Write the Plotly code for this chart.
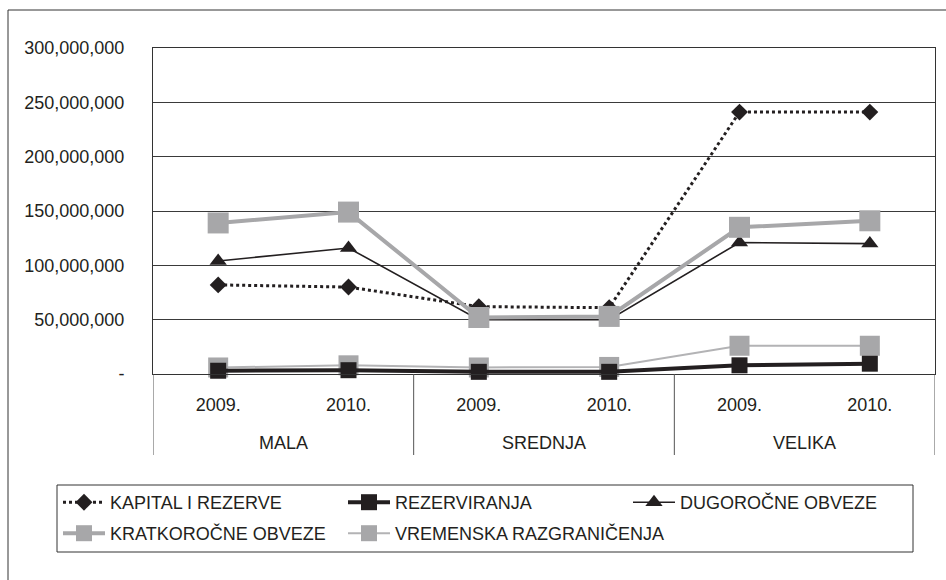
import plotly.graph_objects as go

groups = ["MALA", "MALA", "SREDNJA", "SREDNJA", "VELIKA", "VELIKA"]
years = ["2009.", "2010.", "2009.", "2010.", "2009.", "2010."]

kapital = [82e6, 80e6, 62e6, 61e6, 241e6, 241e6]
rezerviranja = [3e6, 3.5e6, 2e6, 2e6, 8e6, 9.5e6]
dugorocne = [104e6, 116e6, 50e6, 50e6, 121e6, 120e6]
kratkorocne = [139e6, 149e6, 52e6, 53e6, 135e6, 141e6]
vremenska = [6e6, 8e6, 6e6, 6.5e6, 26e6, 26e6]

y_ticks = [0, 50e6, 100e6, 150e6, 200e6, 250e6, 300e6]
y_ticktext = ["-", "50,000,000", "100,000,000", "150,000,000", "200,000,000", "250,000,000", "300,000,000"]

BLACK = "#231f20"
GREY = "#a7a7a9"
GREY_LIGHT = "#b3b3b5"
FONT = "Liberation Sans, Arial, sans-serif"

idx = list(range(len(years)))

fig = go.Figure()
# draw order (later on top); legend order via legendrank; legend rows split over legends
fig.add_trace(go.Scatter(x=idx, y=vremenska, name="VREMENSKA RAZGRANIČENJA", mode="lines+markers",
                         line=dict(color=GREY_LIGHT, width=2),
                         marker=dict(symbol="square", size=20, color=GREY, line=dict(width=0)),
                         legend="legend3", cliponaxis=False))
fig.add_trace(go.Scatter(x=idx, y=kapital, name="KAPITAL I REZERVE", mode="lines+markers",
                         line=dict(color=BLACK, width=3, dash="dot"),
                         marker=dict(symbol="diamond", size=13, color=BLACK, line=dict(width=0)),
                         legend="legend", legendrank=1, cliponaxis=False))
fig.add_trace(go.Scatter(x=idx, y=dugorocne, name="DUGOROČNE OBVEZE", mode="lines+markers",
                         line=dict(color=BLACK, width=1.6),
                         marker=dict(symbol="triangle-up", size=15, color=BLACK, line=dict(width=0)),
                         legend="legend", legendrank=3, cliponaxis=False))
fig.add_trace(go.Scatter(x=idx, y=kratkorocne, name="KRATKOROČNE OBVEZE", mode="lines+markers",
                         line=dict(color=GREY, width=4),
                         marker=dict(symbol="square", size=21, color=GREY, line=dict(width=0)),
                         legend="legend2", cliponaxis=False))
fig.add_trace(go.Scatter(x=idx, y=rezerviranja, name="REZERVIRANJA", mode="lines+markers",
                         line=dict(color=BLACK, width=4),
                         marker=dict(symbol="square", size=16, color=BLACK, line=dict(width=0)),
                         legend="legend", legendrank=2, cliponaxis=False))

# plot-area geometry in px (for paper-coordinate conversions)
PL, PR, PT, PB = 153, 935, 48, 374
PW, PH = PR - PL, PB - PT
def px_x(px):
    return (px - PL) / PW
def py(px):
    return (PB - px) / PH

# group labels and dividers derived from the category arrays
annotations = []
shapes = []
start = 0
for i in range(1, len(groups) + 1):
    if i == len(groups) or groups[i] != groups[start]:
        annotations.append(dict(x=(start + i - 1) / 2, y=py(443), xref="x", yref="paper",
                                text=groups[start], showarrow=False, yanchor="middle",
                                font=dict(family=FONT, size=18, color=BLACK)))
        shapes.append(dict(type="line", xref="x", yref="paper", x0=start - 0.5, x1=start - 0.5,
                           y0=0, y1=py(455), line=dict(color="#555555", width=1)))
        start = i
shapes.append(dict(type="line", xref="x", yref="paper", x0=len(groups) - 0.5, x1=len(groups) - 0.5,
                   y0=0, y1=py(455), line=dict(color="#555555", width=1)))
# outer chart-area frame
shapes.append(dict(type="rect", xref="paper", yref="paper",
                   x0=px_x(8), x1=px_x(970), y0=py(600), y1=py(10),
                   line=dict(color="#333333", width=1), fillcolor="rgba(0,0,0,0)", layer="below"))
# legend frame
shapes.append(dict(type="rect", xref="paper", yref="paper",
                   x0=px_x(57), x1=px_x(913), y0=py(552), y1=py(485),
                   line=dict(color="#333333", width=1), fillcolor="white", layer="below"))

leg_common = dict(orientation="h", xanchor="left", yanchor="top",
                  borderwidth=0, bgcolor="rgba(0,0,0,0)",
                  font=dict(family=FONT, size=18, color=BLACK),
                  itemwidth=42, traceorder="normal")

fig.update_layout(
    width=946, height=580,
    margin=dict(l=PL, r=946 - PR, t=PT, b=580 - PB),
    paper_bgcolor="white", plot_bgcolor="white",
    font=dict(family=FONT, size=18, color=BLACK),
    showlegend=True,
    legend=dict(leg_common, x=px_x(58), y=py(484), entrywidth=228, entrywidthmode="pixels"),
    legend2=dict(leg_common, x=px_x(58), y=py(515)),
    legend3=dict(leg_common, x=px_x(343), y=py(515)),
    xaxis=dict(
        range=[-0.5, len(years) - 0.5], tickvals=idx, ticktext=years,
        showline=True, linecolor="#333333", linewidth=1, mirror=True,
        showgrid=False, zeroline=False, ticks="", ticklabelstandoff=14,
        tickfont=dict(family=FONT, size=18, color=BLACK),
    ),
    yaxis=dict(
        range=[0, 300e6], tickvals=y_ticks, ticktext=y_ticktext,
        showline=True, linecolor="#333333", linewidth=1, mirror=True,
        showgrid=True, gridcolor="#3a3a3a", gridwidth=1, zeroline=False,
        ticks="", ticklabelstandoff=24,
        tickfont=dict(family=FONT, size=18, color=BLACK),
    ),
    annotations=annotations,
    shapes=shapes,
)

fig.write_html("out.html")
